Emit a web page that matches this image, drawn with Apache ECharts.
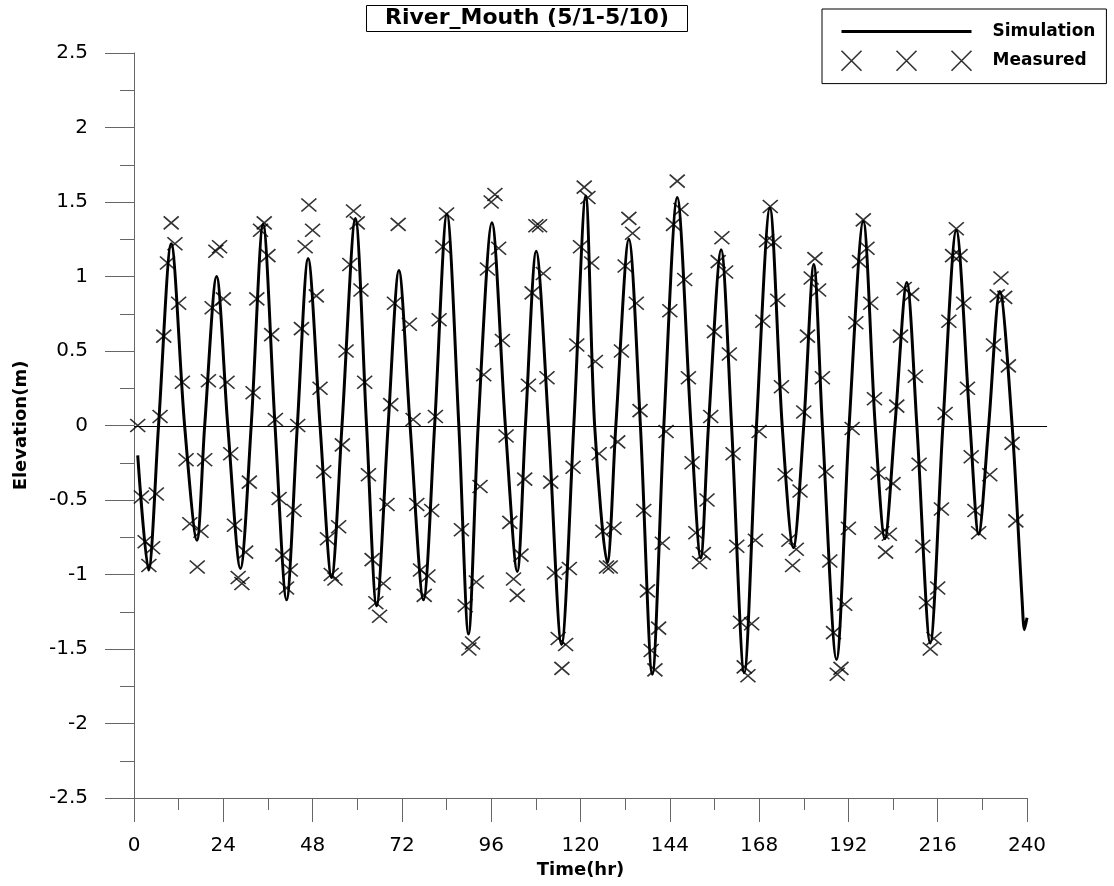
<!DOCTYPE html>
<html>
<head>
<meta charset="utf-8">
<script src="https://cdn.jsdelivr.net/npm/echarts@6/dist/echarts.min.js"></script>
<style>
html,body{margin:0;padding:0;background:#fff;}
#chart{width:1114px;height:886px;}
</style>
</head>
<body>
<div id="chart"></div>
<script>
// Measured tide elevation (m) at hour marks
const measuredTime = [1,2,3,4,5,6,7,8,9,10,11,12,13,14,15,17,18,19,20,21,22,23,24,25,26,27,28,29,
 30,31,32,33,34,35,36,37,38,39,40,41,42,43,44,45,46,47,48,49,50,51,52,53,54,55,56,57,58,59,60,61,62,
 63,64,65,66,67,68,69,70,71,74,75,76,77,78,79,80,81,82,83,84,88,89,90,91,92,
 93,94,95,96,97,98,99,100,101,102,103,104,105,106,107,108,109,110,111,112,113,114,115,116,117,118,119,120,121,
 122,123,124,125,126,127,128,129,130,131,132,133,134,135,136,137,138,139,140,141,142,143,144,145,146,147,148,149,150,151,152,
 153,154,155,156,157,158,159,160,161,162,163,164,165,166,167,168,169,170,171,172,173,174,175,176,177,178,179,180,181,182,183,
 184,185,186,187,188,189,190,191,192,193,194,195,196,197,198,199,200,201,202,203,204,205,206,207,209,210,211,212,213,214,215,
 216,217,218,219,220,221,222,223,224,225,226,227,230,231,232,233,234,235,236,237];
const measuredElev = [0.00,-0.48,-0.78,-0.94,-0.82,-0.46,0.06,0.60,1.09,1.36,1.22,0.82,0.29,-0.23,-0.66,-0.95,-0.71,-0.23,0.30,0.79,1.17,1.20,0.85,0.29,-0.19,-0.67,-1.02,-1.06,
 -0.85,-0.38,0.22,0.85,1.31,1.36,1.14,0.61,0.04,-0.49,-0.87,-1.09,-0.97,-0.57,0.00,0.65,1.20,1.48,1.31,0.87,0.25,-0.31,-0.76,-1.00,-1.03,-0.68,-0.13,0.50,1.08,1.44,1.36,0.91,0.29,
 -0.33,-0.90,-1.19,-1.28,-1.06,-0.53,0.14,0.82,1.35,0.68,0.04,-0.53,-0.97,-1.14,-1.01,-0.57,0.06,0.71,1.20,1.42,-0.70,-1.21,-1.50,-1.46,-1.05,
 -0.41,0.34,1.05,1.50,1.55,1.19,0.57,-0.07,-0.65,-1.03,-1.14,-0.87,-0.36,0.27,0.89,1.34,1.34,1.02,0.32,-0.38,-0.99,-1.43,-1.63,-1.47,-0.96,-0.28,0.54,1.20,1.60,
 1.53,1.09,0.43,-0.19,-0.71,-0.95,-0.95,-0.69,-0.11,0.50,1.07,1.39,1.29,0.82,0.10,-0.57,-1.11,-1.51,-1.64,-1.36,-0.79,-0.04,0.77,1.35,1.64,1.45,0.98,0.32,-0.25,-0.72,-0.92,
 -0.86,-0.50,0.06,0.63,1.10,1.26,1.03,0.48,-0.19,-0.81,-1.32,-1.62,-1.68,-1.33,-0.77,-0.04,0.70,1.24,1.47,1.23,0.84,0.26,-0.33,-0.77,-0.94,-0.83,-0.44,0.09,0.60,0.99,1.12,
 0.91,0.32,-0.31,-0.91,-1.39,-1.67,-1.63,-1.20,-0.69,-0.02,0.69,1.10,1.38,1.19,0.82,0.18,-0.32,-0.72,-0.85,-0.73,-0.39,0.13,0.60,0.92,0.88,0.33,-0.26,-0.81,-1.19,-1.50,-1.43,
 -1.09,-0.56,0.08,0.70,1.14,1.32,1.14,0.82,0.25,-0.21,-0.57,-0.72,-0.33,0.54,0.87,0.99,0.86,0.40,-0.12,-0.64];

// Simulated elevation (m): turning points and zero crossings
const simTime = [1,3.9,6.6,10.0,13.6,16.9,19.0,22.2,25.2,28.6,31.5,34.7,37.9,41.0,43.9,46.8,50.0,53.1,55.9,59.5,
 62.5,65.2,68.3,71.2,74.2,77.8,80.8,84.1,87.3,89.9,92.5,96.2,99.8,103.0,105.2,108.1,111.4,114.9,118.2,121.4,
 123.8,127.2,129.5,133.0,136.1,139.3,142.4,146.0,149.7,152.3,154.4,157.8,160.6,164.0,167.3,170.9,174.2,177.2,180.0,182.7,
 185.0,188.8,192.2,196.0,199.2,201.8,204.5,207.7,210.4,214.0,217.4,221.0,224.7,227.0,229.7,232.7,236.0,238.7,239.3,240];
const simElev = [-0.20,-0.97,0,1.22,0,-0.77,0,1.00,0,-0.96,0,1.35,0,-1.17,0,1.12,0,-1.02,0,1.39,
 0,-1.21,0,1.04,0,-1.17,0,1.42,0,-1.40,0,1.36,0,-0.98,0,1.17,0,-1.47,0,1.54,
 0,-0.92,0,1.25,0,-1.67,0,1.53,0,-0.89,0,1.18,0,-1.66,0,1.46,0,-0.82,0,1.08,
 0,-1.57,0,1.37,0,-0.76,0,0.96,0,-1.46,0,1.31,0,-0.73,0,0.90,0,-1.18,-1.37,-1.29];

const xTicks = {min: 0, max: 240, step: 24};
const yTicks = {min: -2.5, max: 2.5, step: 0.5};
const zeroLineExtent = [0, 245.4];

const font = 'DejaVu Sans';
const axisGrey = '#666';
const chart = echarts.init(document.getElementById('chart'));
const crossPath = 'path://M0,0L10,10M10,0L0,10';
const legendCross = 'path://M0,0L20,20M0,20L20,0M55,0L75,20M55,20L75,0M110,0L130,20M110,20L130,0';

chart.setOption({
  animation: false,
  backgroundColor: '#fff',
  title: {
    text: 'River_Mouth (5/1-5/10)',
    left: 366, top: 5,
    borderColor: '#000', borderWidth: 1,
    padding: [2, 19, 2, 19],
    textStyle: {fontFamily: font, fontWeight: 'bold', fontSize: 22, color: '#000', lineHeight: 23}
  },
  legend: {
    orient: 'vertical', left: 822, top: 9,
    padding: [14, 11, 12, 18],
    itemWidth: 130, itemHeight: 20, itemGap: 10,
    borderColor: '#000', borderWidth: 1,
    formatter: '{a|{name}}',
    textStyle: {fontFamily: font, fontWeight: 'bold', fontSize: 17, color: '#000',
      rich: {a: {fontFamily: font, fontWeight: 'bold', fontSize: 17, color: '#000', padding: [0, 0, 0, 16]}}},
    data: [
      {name: 'Simulation', itemStyle: {color: 'rgba(0,0,0,0)', borderColor: 'rgba(0,0,0,0)', borderWidth: 0, opacity: 0},
       lineStyle: {color: '#000', width: 3}},
      {name: 'Measured', icon: legendCross, itemStyle: {color: '#000', borderColor: '#000', borderWidth: 1.6}}
    ]
  },
  grid: {left: 134, right: 87, top: 53, bottom: 88, containLabel: false},
  xAxis: {
    type: 'value', min: xTicks.min, max: xTicks.max, interval: xTicks.step,
    axisLine: {show: true, onZero: false, lineStyle: {color: axisGrey, width: 1}},
    axisTick: {show: true, length: 24, lineStyle: {color: axisGrey, width: 1}},
    minorTick: {show: true, splitNumber: 2, length: 12, lineStyle: {color: axisGrey, width: 1}},
    splitLine: {show: false},
    axisLabel: {color: '#000', fontSize: 20, fontFamily: font, margin: 38},
    name: 'Time(hr)', nameLocation: 'middle', nameGap: 62,
    nameTextStyle: {fontFamily: font, fontWeight: 'bold', fontSize: 18, color: '#000'}
  },
  yAxis: {
    type: 'value', min: yTicks.min, max: yTicks.max, interval: yTicks.step,
    axisLine: {show: true, onZero: false, lineStyle: {color: axisGrey, width: 1}},
    axisTick: {show: true, length: 29, lineStyle: {color: axisGrey, width: 1}},
    minorTick: {show: true, splitNumber: 2, length: 14, lineStyle: {color: axisGrey, width: 1}},
    splitLine: {show: false},
    axisLabel: {color: '#000', fontSize: 20, fontFamily: font, margin: 46},
    name: 'Elevation(m)', nameLocation: 'middle', nameGap: 104, nameRotate: 90,
    nameTextStyle: {fontFamily: font, fontWeight: 'bold', fontSize: 18, color: '#000'}
  },
  series: [
    {
      name: 'Measured', type: 'scatter',
      data: measuredTime.map((t, i) => [t, measuredElev[i]]),
      symbol: crossPath, symbolSize: [15, 13],
      itemStyle: {color: '#000', borderColor: '#000', borderWidth: 1.6},
      z: 2
    },
    {
      name: 'Simulation', type: 'line',
      data: simTime.map((t, i) => [t, simElev[i]]),
      symbol: 'none', showSymbol: false, smooth: 0.3,
      lineStyle: {color: '#000', width: 3},
      itemStyle: {color: '#000'},
      z: 3
    }
  ]
});

// zero reference line, placed through the chart's own coordinate conversion
const z0 = chart.convertToPixel({gridIndex: 0}, [zeroLineExtent[0], 0]);
const z1 = chart.convertToPixel({gridIndex: 0}, [zeroLineExtent[1], 0]);
const zy = Math.round(z0[1]) + 0.5;
chart.setOption({
  graphic: [{
    type: 'line', silent: true, z: 1,
    shape: {x1: z0[0], y1: zy, x2: z1[0], y2: zy},
    style: {stroke: '#000', lineWidth: 1}
  }]
});
</script>
</body>
</html>
